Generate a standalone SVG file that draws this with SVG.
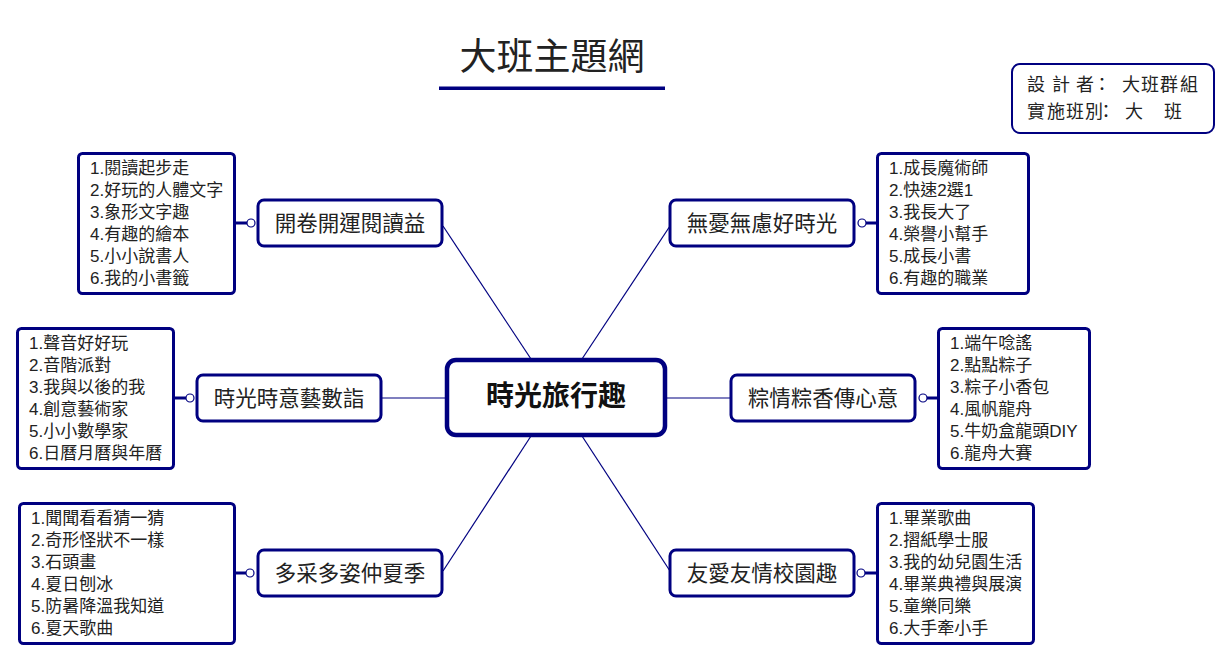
<svg xmlns="http://www.w3.org/2000/svg" width="1232" height="661" viewBox="0 0 1232 661">
<style>
text{font-family:"Liberation Sans","Noto Sans CJK TC","Noto Sans CJK SC",sans-serif;fill:#222}
.box{fill:#fff;stroke:#000080;stroke-width:3}
.br{font-size:21.5px;text-anchor:middle}
.li{font-size:17px}
.thin{stroke:#000080;stroke-width:1.2;fill:none}
.thick{stroke:#000080;stroke-width:3;fill:none}
.dot{fill:#fff;stroke:#000080;stroke-width:1.2}
</style>
<rect width="1232" height="661" fill="#fff"/>
<g id="title">
<text x="552" y="70" font-size="37" text-anchor="middle">大班主題網</text>
<rect x="439" y="86.5" width="226" height="3.5" fill="#000080"/>
</g>
<g id="designer">
<rect x="1012" y="64" width="202" height="69" rx="8" fill="#fff" stroke="#000080" stroke-width="2"/>
<text font-size="18" y="91" x="1027 1052 1076 1093 1122 1141 1160 1180">設計者：大班群組</text>
<text font-size="18" y="118" x="1027 1047 1066 1085 1097 1125 1164">實施班別：大班</text>
</g>
<g id="connectors">
<line class="thin" x1="443" y1="226" x2="531" y2="359"/>
<line class="thin" x1="670" y1="226" x2="582" y2="359"/>
<line class="thin" x1="381" y1="398" x2="447" y2="398"/>
<line class="thin" x1="664" y1="398" x2="731" y2="398"/>
<line class="thin" x1="531" y1="436" x2="443" y2="571"/>
<line class="thin" x1="582" y1="436" x2="670" y2="571"/>
<line class="thick" x1="235" y1="223" x2="247" y2="223"/>
<circle class="dot" cx="251" cy="223" r="4"/>
<line class="thick" x1="866" y1="223" x2="877" y2="223"/>
<circle class="dot" cx="862" cy="223" r="4"/>
<line class="thick" x1="174" y1="398" x2="186" y2="398"/>
<circle class="dot" cx="190" cy="398" r="4"/>
<line class="thick" x1="927" y1="398" x2="938" y2="398"/>
<circle class="dot" cx="923" cy="398" r="4"/>
<line class="thick" x1="235" y1="573" x2="246" y2="573"/>
<circle class="dot" cx="250" cy="573" r="4"/>
<line class="thick" x1="865" y1="573" x2="877" y2="573"/>
<circle class="dot" cx="861" cy="573" r="4"/>
</g>
<g id="center">
<rect x="447" y="360" width="218" height="75" rx="9" fill="#fff" stroke="#000080" stroke-width="4.5"/>
<text x="556" y="406" font-size="28" font-weight="bold" text-anchor="middle" style="fill:#111">時光旅行趣</text>
</g>
<g id="b1">
<rect class="box" x="258" y="200" width="184" height="46" rx="6"/>
<text class="br" x="350" y="231">開卷開運閱讀益</text>
</g>
<g id="l1">
<rect class="box" x="78.5" y="153.5" width="156" height="140" rx="4"/>
<text class="li" x="90" y="174">1.閱讀起步走</text>
<text class="li" x="90" y="196">2.好玩的人體文字</text>
<text class="li" x="90" y="218">3.象形文字趣</text>
<text class="li" x="90" y="240">4.有趣的繪本</text>
<text class="li" x="90" y="262">5.小小說書人</text>
<text class="li" x="90" y="284">6.我的小書籤</text>
</g>
<g id="b2">
<rect class="box" x="670" y="200" width="184" height="46" rx="6"/>
<text class="br" x="762" y="231">無憂無慮好時光</text>
</g>
<g id="l2">
<rect class="box" x="877.5" y="153.5" width="151" height="140" rx="4"/>
<text class="li" x="889" y="174">1.成長魔術師</text>
<text class="li" x="889" y="196">2.快速2選1</text>
<text class="li" x="889" y="218">3.我長大了</text>
<text class="li" x="889" y="240">4.榮譽小幫手</text>
<text class="li" x="889" y="262">5.成長小書</text>
<text class="li" x="889" y="284">6.有趣的職業</text>
</g>
<g id="b3">
<rect class="box" x="197" y="375" width="184" height="46" rx="6"/>
<text class="br" x="289" y="406">時光時意藝數詣</text>
</g>
<g id="l3">
<rect class="box" x="17.5" y="328.5" width="156" height="140" rx="4"/>
<text class="li" x="29" y="349">1.聲音好好玩</text>
<text class="li" x="29" y="371">2.音階派對</text>
<text class="li" x="29" y="393">3.我與以後的我</text>
<text class="li" x="29" y="415">4.創意藝術家</text>
<text class="li" x="29" y="437">5.小小數學家</text>
<text class="li" x="29" y="459">6.日曆月曆與年曆</text>
</g>
<g id="b4">
<rect class="box" x="731" y="375" width="184" height="46" rx="6"/>
<text class="br" x="823" y="406">粽情粽香傳心意</text>
</g>
<g id="l4">
<rect class="box" x="938.5" y="328.5" width="151" height="140" rx="4"/>
<text class="li" x="950" y="349">1.端午唸謠</text>
<text class="li" x="950" y="371">2.點點粽子</text>
<text class="li" x="950" y="393">3.粽子小香包</text>
<text class="li" x="950" y="415">4.風帆龍舟</text>
<text class="li" x="950" y="437">5.牛奶盒龍頭DIY</text>
<text class="li" x="950" y="459">6.龍舟大賽</text>
</g>
<g id="b5">
<rect class="box" x="258" y="550" width="184" height="46" rx="6"/>
<text class="br" x="350" y="581">多采多姿仲夏季</text>
</g>
<g id="l5">
<rect class="box" x="19.5" y="503.5" width="215" height="140" rx="4"/>
<text class="li" x="31" y="524">1.聞聞看看猜一猜</text>
<text class="li" x="31" y="546">2.奇形怪狀不一樣</text>
<text class="li" x="31" y="568">3.石頭畫</text>
<text class="li" x="31" y="590">4.夏日刨冰</text>
<text class="li" x="31" y="612">5.防暑降溫我知道</text>
<text class="li" x="31" y="634">6.夏天歌曲</text>
</g>
<g id="b6">
<rect class="box" x="670" y="550" width="184" height="46" rx="6"/>
<text class="br" x="762" y="581">友愛友情校園趣</text>
</g>
<g id="l6">
<rect class="box" x="877.5" y="503.5" width="156" height="140" rx="4"/>
<text class="li" x="889" y="524">1.畢業歌曲</text>
<text class="li" x="889" y="546">2.摺紙學士服</text>
<text class="li" x="889" y="568">3.我的幼兒園生活</text>
<text class="li" x="889" y="590">4.畢業典禮與展演</text>
<text class="li" x="889" y="612">5.童樂同樂</text>
<text class="li" x="889" y="634">6.大手牽小手</text>
</g>
</svg>
